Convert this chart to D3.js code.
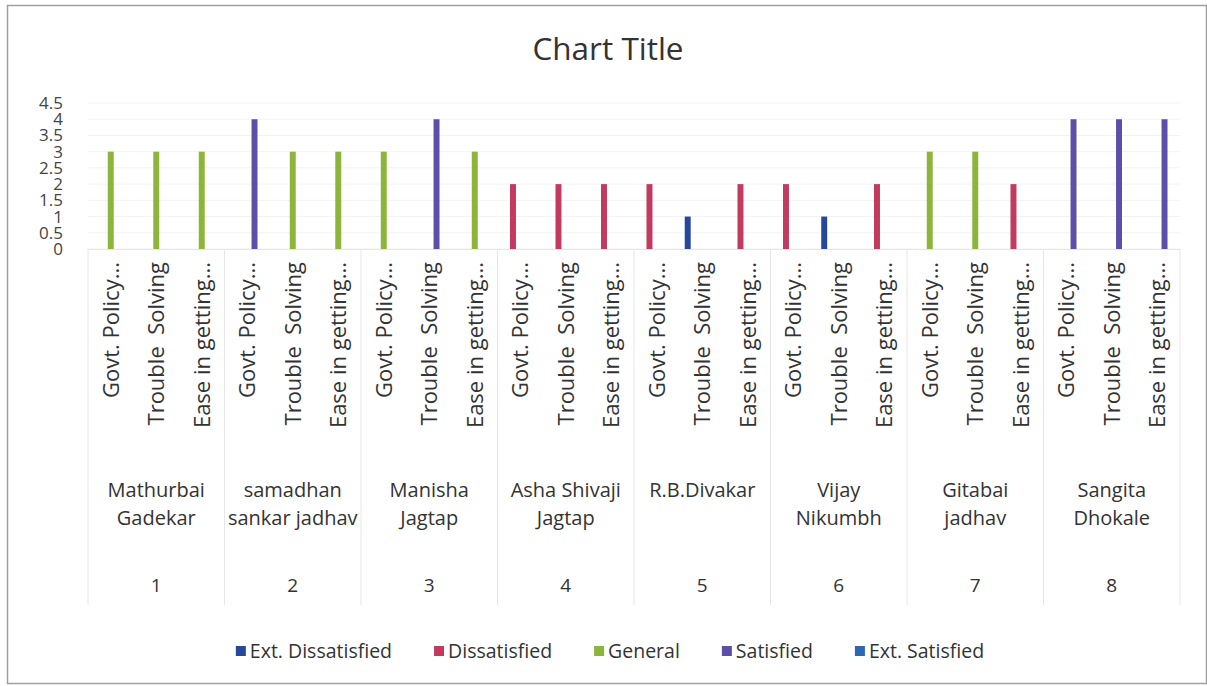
<!DOCTYPE html>
<html>
<head>
<meta charset="utf-8">
<script src="https://cdn.jsdelivr.net/npm/d3@7"></script>
<style>
  html, body { margin: 0; padding: 0; background: #fff; }
  svg { display: block; font-family: "Open Sans", "Noto Sans", sans-serif; }
</style>
</head>
<body>
<svg id="chart" width="1207" height="686"></svg>
<script>
// ---- data ----
const groupNumbers = ["1", "2", "3", "4", "5", "6", "7", "8"];
const groupNames = [
  ["Mathurbai", "Gadekar"],
  ["samadhan", "sankar jadhav"],
  ["Manisha", "Jagtap"],
  ["Asha Shivaji", "Jagtap"],
  ["R.B.Divakar"],
  ["Vijay", "Nikumbh"],
  ["Gitabai", "jadhav"],
  ["Sangita", "Dhokale"]
];
const subCategories = ["Govt. Policy...", "Trouble  Solving", "Ease in getting..."];
const seriesNames = ["Ext. Dissatisfied", "Dissatisfied", "General", "Satisfied", "Ext. Satisfied"];
const seriesColors = ["#25489c", "#c23a5e", "#8db43b", "#5b4fa9", "#2a68b2"];
// one value per (group, sub-category), 24 entries each; null = no bar
const extDissatisfied = [null,null,null, null,null,null, null,null,null, null,null,null, null,1,null, null,1,null, null,null,null, null,null,null];
const dissatisfied    = [null,null,null, null,null,null, null,null,null, 2,2,2,          2,null,2,    2,null,2,    null,null,2,    null,null,null];
const general         = [3,3,3,          null,3,3,       3,null,3,       null,null,null, null,null,null, null,null,null, 3,3,null,      null,null,null];
const satisfied       = [null,null,null, 4,null,null,    null,4,null,    null,null,null, null,null,null, null,null,null, null,null,null, 4,4,4];
const extSatisfied    = [null,null,null, null,null,null, null,null,null, null,null,null, null,null,null, null,null,null, null,null,null, null,null,null];
const yTicks = [0, 0.5, 1, 1.5, 2, 2.5, 3, 3.5, 4, 4.5];
const seriesValues = [extDissatisfied, dissatisfied, general, satisfied, extSatisfied];

// ---- layout ----
const svg = d3.select("#chart");
const W = 1207, H = 686;
const plot = { left: 88, right: 1180, top: 103, bottom: 249 };

// chart border
svg.append("rect").attr("x", 7.5).attr("y", 5.5).attr("width", W - 8).attr("height", H - 8)
  .attr("fill", "#fff").attr("stroke", "#a0a0a0").attr("stroke-width", 1.5);

// title
svg.append("text").attr("x", 608).attr("y", 60).attr("text-anchor", "middle")
  .attr("font-size", 31.5).attr("fill", "#333").text("Chart Title");

const catKeys = [];
groupNumbers.forEach((g, gi) => subCategories.forEach((s, si) => catKeys.push(gi * 3 + si)));

const x = d3.scaleBand().domain(catKeys).range([plot.left, plot.right]).paddingInner(0).paddingOuter(0);
const xs = d3.scaleBand().domain(d3.range(seriesNames.length)).range([0, x.bandwidth()])
  .paddingInner(0.18).paddingOuter(0.72);
const y = d3.scaleLinear().domain([0, 4.5]).range([plot.bottom, plot.top]);

// gridlines
svg.append("g").selectAll("line").data(yTicks).join("line")
  .attr("x1", plot.left).attr("x2", plot.right)
  .attr("y1", d => y(d)).attr("y2", d => y(d))
  .attr("stroke", "#f3f3f3").attr("stroke-width", 1);

// y axis labels
const yAxis = d3.axisLeft(y).tickValues(yTicks).tickSize(0).tickPadding(0).tickFormat(d3.format("~g"));
const yg = svg.append("g").attr("transform", `translate(${63},0)`).call(yAxis);
yg.select(".domain").remove();
yg.selectAll("text").attr("font-size", 17).attr("fill", "#444").attr("font-family", "\"Open Sans\", sans-serif");

// group dividers
const gStep = (plot.right - plot.left) / groupNumbers.length;
svg.append("g").selectAll("line").data(d3.range(groupNumbers.length + 1)).join("line")
  .attr("x1", i => plot.left + i * gStep).attr("x2", i => plot.left + i * gStep)
  .attr("y1", plot.bottom).attr("y2", 605)
  .attr("stroke", "#e6e6e6").attr("stroke-width", 1);

// x axis line
svg.append("line").attr("x1", plot.left).attr("x2", plot.right)
  .attr("y1", plot.bottom + 0.5).attr("y2", plot.bottom + 0.5).attr("stroke", "#e6e6e6");

// bars
const barData = [];
seriesValues.forEach((vals, si) => vals.forEach((v, ci) => { if (v != null) barData.push({ si, ci, v }); }));
svg.append("g").selectAll("rect").data(barData).join("rect")
  .attr("x", d => x(d.ci) + xs(d.si))
  .attr("width", xs.bandwidth())
  .attr("y", d => y(d.v))
  .attr("height", d => y(0) - y(d.v))
  .attr("fill", d => seriesColors[d.si]);

// rotated sub-category labels
svg.append("g").selectAll("text").data(catKeys).join("text")
  .attr("transform", d => `translate(${x(d) + x.bandwidth() / 2 + 8},262) rotate(-90)`)
  .attr("text-anchor", "end")
  .attr("font-size", 22).attr("fill", "#333")
  .attr("xml:space", "preserve")
  .style("white-space", "pre")
  .text(d => subCategories[d % 3]);

// group names
const gn = svg.append("g").selectAll("text").data(groupNames).join("text")
  .attr("x", (d, i) => plot.left + (i + 0.5) * gStep)
  .attr("y", 497).attr("text-anchor", "middle").attr("font-size", 20).attr("fill", "#333");
gn.selectAll("tspan").data(d => d).join("tspan")
  .attr("x", function () { return d3.select(this.parentNode).attr("x"); })
  .attr("dy", (d, i) => i === 0 ? 0 : 28).text(d => d);

// group numbers
svg.append("g").selectAll("text").data(groupNumbers).join("text")
  .attr("x", (d, i) => plot.left + (i + 0.5) * gStep)
  .attr("y", 592).attr("text-anchor", "middle").attr("font-size", 19).attr("fill", "#333")
  .text(d => d);

// legend
const legend = svg.append("g");
const items = legend.selectAll("g").data(seriesNames).join("g");
items.append("rect").attr("width", 10).attr("height", 10).attr("y", -5)
  .attr("fill", (d, i) => seriesColors[i]);
items.append("text").attr("x", 14).attr("dy", "0.35em").attr("font-size", 19.5).attr("fill", "#333").text(d => d);
let widths = [];
items.each(function () { widths.push(this.getBBox().width); });
const gap = 42;
const total = d3.sum(widths) + gap * (widths.length - 1);
let cx = 610 - total / 2;
items.attr("transform", (d, i) => { const t = `translate(${cx},651)`; cx += widths[i] + gap; return t; });
</script>
</body>
</html>
